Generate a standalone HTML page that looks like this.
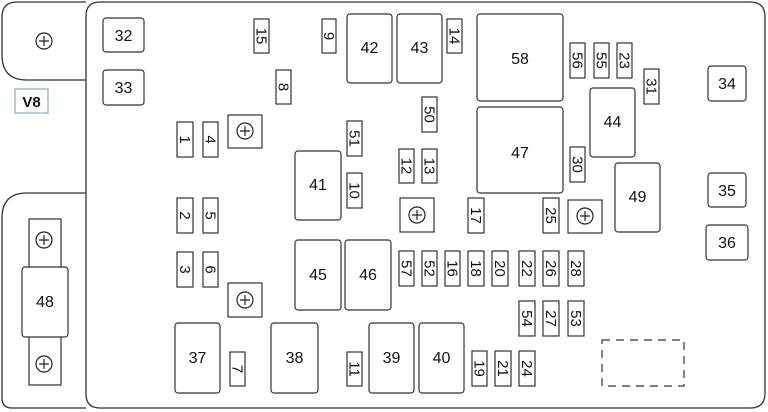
<!DOCTYPE html>
<html><head><style>html,body{margin:0;padding:0;background:#fff}svg{display:block}text{font-family:"Liberation Sans",sans-serif;fill:#111}</style></head>
<body>
<svg width="768" height="412" viewBox="0 0 768 412" xmlns="http://www.w3.org/2000/svg">
<g fill="none" stroke="#333" stroke-width="1.3">
<path d="M100,2 H750 Q765,2 765,17 V393 Q765,408 750,408 H100 Q86,408 86,394 V16 Q86,2 100,2 Z" fill="#fff"/>
<path d="M86,2 H17 Q2,2 2,17 V55 Q2,80 27,80 H86"/>
<path d="M86,193 H27 Q2,193 2,218 V398 Q2,408 12,408 H86"/>
</g>
<g stroke="#333" stroke-width="1.2" fill="#fff">
<rect x="29" y="219" width="32" height="166"/>
<rect x="22" y="267" width="46" height="70" rx="3"/>
<rect x="228" y="115" width="34" height="33"/>
<rect x="228" y="283" width="34" height="34"/>
<rect x="400" y="198" width="34" height="34"/>
<rect x="568" y="200" width="34" height="33"/>
</g>
<g fill="none" stroke="#222" stroke-width="1.2">
<circle cx="44" cy="41" r="8"/><circle cx="44" cy="240" r="8"/><circle cx="44" cy="364" r="8"/>
<circle cx="245" cy="131" r="8"/><circle cx="245" cy="300" r="8"/><circle cx="417" cy="215" r="8"/><circle cx="585" cy="216" r="8"/>
<path d="M39,41h10M44,36v10M39,240h10M44,235v10M39,364h10M44,359v10M240,131h10M245,126v10M240,300h10M245,295v10M412,215h10M417,210v10M580,216h10M585,211v10"/>
</g>
<rect x="15" y="89" width="33" height="24" fill="#fff" stroke="#8fa3c8" stroke-width="1.2"/>
<text x="31.5" y="107" font-size="15" font-weight="bold" text-anchor="middle">V8</text>
<rect x="602" y="340" width="82" height="46" fill="none" stroke="#333" stroke-width="1.2" stroke-dasharray="8,6"/>
<g stroke="#333" stroke-width="1.2" fill="#fff" font-size="16" text-anchor="middle">
<g id="big">
<rect x="103" y="18" width="41" height="34" rx="3"/><text x="123.5" y="41" stroke="none">32</text>
<rect x="103" y="70" width="41" height="35" rx="3"/><text x="123.5" y="93" stroke="none">33</text>
<rect x="708" y="66" width="38" height="35" rx="3"/><text x="727" y="89" stroke="none">34</text>
<rect x="708" y="173" width="38" height="34" rx="3"/><text x="727" y="196" stroke="none">35</text>
<rect x="706" y="225" width="42" height="35" rx="3"/><text x="727" y="248" stroke="none">36</text>
<rect x="347" y="14" width="45" height="69" rx="3"/><text x="369.5" y="53" stroke="none">42</text>
<rect x="397" y="14" width="45" height="69" rx="3"/><text x="419.5" y="53" stroke="none">43</text>
<rect x="477" y="14" width="86" height="87" rx="3"/><text x="520" y="64" stroke="none">58</text>
<rect x="477" y="107" width="86" height="86" rx="3"/><text x="520" y="158" stroke="none">47</text>
<rect x="590" y="88" width="45" height="69" rx="3"/><text x="612.5" y="127" stroke="none">44</text>
<rect x="615" y="163" width="45" height="69" rx="3"/><text x="637.5" y="202" stroke="none">49</text>
<rect x="295" y="151" width="46" height="69" rx="3"/><text x="318" y="190" stroke="none">41</text>
<rect x="295" y="240" width="46" height="70" rx="3"/><text x="318" y="280" stroke="none">45</text>
<rect x="345" y="240" width="46" height="70" rx="3"/><text x="368" y="280" stroke="none">46</text>
<rect x="175" y="323" width="45" height="70" rx="3"/><text x="197.5" y="363" stroke="none">37</text>
<rect x="271" y="323" width="47" height="70" rx="3"/><text x="294.5" y="363" stroke="none">38</text>
<rect x="369" y="323" width="45" height="70" rx="3"/><text x="391.5" y="363" stroke="none">39</text>
<rect x="419" y="323" width="45" height="70" rx="3"/><text x="441.5" y="363" stroke="none">40</text>
<text x="45" y="307" stroke="none">48</text>
</g>
</g>
<g font-size="15" text-anchor="middle">
<g stroke="#333" stroke-width="1.2" fill="#fff">
<rect x="254" y="19" width="15" height="34"/><rect x="322" y="19" width="14" height="34"/><rect x="276" y="70" width="15" height="34"/>
<rect x="447" y="19" width="15" height="34"/><rect x="570" y="43" width="15" height="35"/><rect x="594" y="43" width="15" height="35"/>
<rect x="617" y="43" width="15" height="35"/><rect x="644" y="69" width="15" height="35"/>
<rect x="177" y="122" width="16" height="35"/><rect x="203" y="122" width="15" height="35"/>
<rect x="422" y="97" width="15" height="35"/><rect x="347" y="121" width="15" height="35"/>
<rect x="570" y="147" width="15" height="35"/><rect x="347" y="173" width="15" height="35"/>
<rect x="399" y="149" width="15" height="34"/><rect x="422" y="149" width="15" height="34"/>
<rect x="177" y="198" width="16" height="35"/><rect x="203" y="198" width="15" height="35"/>
<rect x="468" y="198" width="16" height="35"/><rect x="543" y="198" width="16" height="35"/>
<rect x="177" y="252" width="16" height="35"/><rect x="203" y="252" width="15" height="35"/>
<rect x="399" y="251" width="15" height="35"/><rect x="422" y="251" width="15" height="35"/><rect x="445" y="251" width="15" height="35"/>
<rect x="468" y="251" width="16" height="35"/><rect x="492" y="251" width="16" height="35"/><rect x="519" y="251" width="16" height="35"/>
<rect x="543" y="251" width="16" height="35"/><rect x="568" y="251" width="16" height="35"/>
<rect x="519" y="301" width="16" height="35"/><rect x="543" y="301" width="16" height="35"/><rect x="568" y="301" width="16" height="35"/>
<rect x="230" y="352" width="15" height="34"/><rect x="347" y="352" width="15" height="34"/>
<rect x="472" y="351" width="15" height="35"/><rect x="495" y="351" width="16" height="35"/><rect x="519" y="351" width="16" height="35"/>
</g>
<text transform="translate(261.5,36) rotate(90)" y="5">15</text>
<text transform="translate(329,36) rotate(90)" y="5">9</text>
<text transform="translate(283.5,87) rotate(90)" y="5">8</text>
<text transform="translate(454.5,36) rotate(90)" y="5">14</text>
<text transform="translate(577.5,60.5) rotate(90)" y="5">56</text>
<text transform="translate(601.5,60.5) rotate(90)" y="5">55</text>
<text transform="translate(624.5,60.5) rotate(90)" y="5">23</text>
<text transform="translate(651.5,86.5) rotate(90)" y="5">31</text>
<text transform="translate(185,139.5) rotate(90)" y="5">1</text>
<text transform="translate(210.5,139.5) rotate(90)" y="5">4</text>
<text transform="translate(429.5,114.5) rotate(90)" y="5">50</text>
<text transform="translate(354.5,138.5) rotate(90)" y="5">51</text>
<text transform="translate(577.5,164.5) rotate(90)" y="5">30</text>
<text transform="translate(354.5,190.5) rotate(90)" y="5">10</text>
<text transform="translate(406.5,166) rotate(90)" y="5">12</text>
<text transform="translate(429.5,166) rotate(90)" y="5">13</text>
<text transform="translate(185,215.5) rotate(90)" y="5">2</text>
<text transform="translate(210.5,215.5) rotate(90)" y="5">5</text>
<text transform="translate(476,215.5) rotate(90)" y="5">17</text>
<text transform="translate(551,215.5) rotate(90)" y="5">25</text>
<text transform="translate(185,269.5) rotate(90)" y="5">3</text>
<text transform="translate(210.5,269.5) rotate(90)" y="5">6</text>
<text transform="translate(406.5,268.5) rotate(90)" y="5">57</text>
<text transform="translate(429.5,268.5) rotate(90)" y="5">52</text>
<text transform="translate(452.5,268.5) rotate(90)" y="5">16</text>
<text transform="translate(476,268.5) rotate(90)" y="5">18</text>
<text transform="translate(500,268.5) rotate(90)" y="5">20</text>
<text transform="translate(527,268.5) rotate(90)" y="5">22</text>
<text transform="translate(551,268.5) rotate(90)" y="5">26</text>
<text transform="translate(576,268.5) rotate(90)" y="5">28</text>
<text transform="translate(527,318.5) rotate(90)" y="5">54</text>
<text transform="translate(551,318.5) rotate(90)" y="5">27</text>
<text transform="translate(576,318.5) rotate(90)" y="5">53</text>
<text transform="translate(237.5,369) rotate(90)" y="5">7</text>
<text transform="translate(354.5,369) rotate(90)" y="5">11</text>
<text transform="translate(479.5,368.5) rotate(90)" y="5">19</text>
<text transform="translate(503,368.5) rotate(90)" y="5">21</text>
<text transform="translate(527,368.5) rotate(90)" y="5">24</text>
</g>
</svg>
</body></html>
